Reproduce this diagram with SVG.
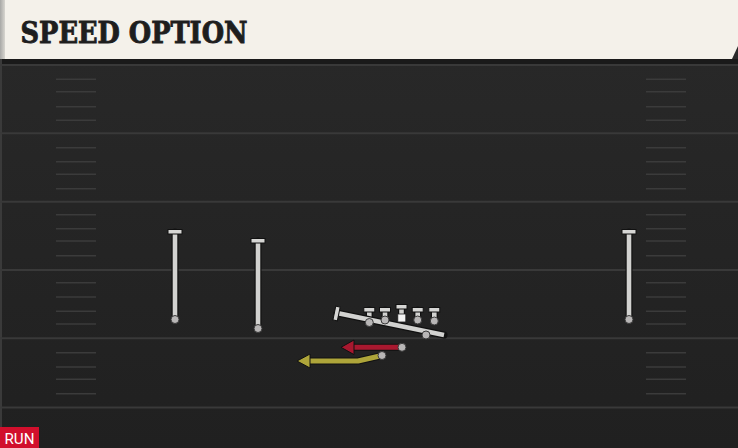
<svg xmlns="http://www.w3.org/2000/svg" width="738" height="448" viewBox="0 0 738 448">
<defs>
<linearGradient id="field" x1="0" y1="0" x2="0" y2="1">
<stop offset="0" stop-color="#282828"/>
<stop offset="1" stop-color="#202020"/>
</linearGradient>
<linearGradient id="edge" x1="0" y1="0" x2="1" y2="0">
<stop offset="0" stop-color="#a8a8a6"/>
<stop offset="1" stop-color="#d8d6d0"/>
</linearGradient>
</defs>
<style>
.yard{stroke:#393939;stroke-width:2}
.hash{stroke:#3b3b3b;stroke-width:1.6}
.out{stroke:#111;stroke-width:7;fill:none;stroke-linecap:round;stroke-linejoin:round}
.wr{stroke:#d2d2d0;stroke-width:4.6;fill:none;stroke-linecap:butt}
.bar{fill:#d6d6d4;stroke:#111;stroke-width:1}
.dot{fill:#b8b6b6;stroke:#3a3a3a;stroke-width:1}
.red{stroke:#a8182f;stroke-width:5;fill:none;stroke-linejoin:round}
.yel{stroke:#aea53a;stroke-width:5;fill:none;stroke-linejoin:round}
.title{font-family:"DejaVu Serif",serif;font-weight:bold;font-size:29px;fill:#1e1e1e;stroke:#1e1e1e;stroke-width:0.9}
.run{font-family:Roboto,"Liberation Sans",sans-serif;font-size:15px;fill:#ffffff}
</style>
<rect x="0" y="0" width="738" height="448" fill="#232323"/>
<rect x="0" y="59" width="738" height="389" fill="url(#field)"/>
<rect x="0" y="59" width="738" height="5" fill="#1a1a1a"/>
<rect x="0" y="59" width="2" height="389" fill="#3a3a3a"/>
<g id="header">
<rect x="0" y="0" width="738" height="59" fill="#f4f1ea"/>
<rect x="0" y="0" width="5" height="59" fill="url(#edge)"/>
<polygon points="738,46 738,59 732,59" fill="#2a2a2a"/>
<text class="title" x="20.5" y="42.5" textLength="227" lengthAdjust="spacingAndGlyphs">SPEED OPTION</text>
</g>
<g id="field-lines">
<line class="yard" x1="0" y1="65" x2="738" y2="65"/>
<line class="yard" x1="0" y1="133.3" x2="738" y2="133.3"/>
<line class="yard" x1="0" y1="201.7" x2="738" y2="201.7"/>
<line class="yard" x1="0" y1="270" x2="738" y2="270"/>
<line class="yard" x1="0" y1="338.3" x2="738" y2="338.3"/>
<line class="yard" x1="0" y1="407.5" x2="738" y2="407.5"/>
<g id="hashes-left">
<line class="hash" x1="56" y1="79.3" x2="96" y2="79.3"/>
<line class="hash" x1="56" y1="91.7" x2="96" y2="91.7"/>
<line class="hash" x1="56" y1="106.7" x2="96" y2="106.7"/>
<line class="hash" x1="56" y1="120.3" x2="96" y2="120.3"/>
<line class="hash" x1="56" y1="147.7" x2="96" y2="147.7"/>
<line class="hash" x1="56" y1="161.7" x2="96" y2="161.7"/>
<line class="hash" x1="56" y1="174.3" x2="96" y2="174.3"/>
<line class="hash" x1="56" y1="188.7" x2="96" y2="188.7"/>
<line class="hash" x1="56" y1="214.7" x2="96" y2="214.7"/>
<line class="hash" x1="56" y1="228.7" x2="96" y2="228.7"/>
<line class="hash" x1="56" y1="241" x2="96" y2="241"/>
<line class="hash" x1="56" y1="255.7" x2="96" y2="255.7"/>
<line class="hash" x1="56" y1="282.7" x2="96" y2="282.7"/>
<line class="hash" x1="56" y1="297" x2="96" y2="297"/>
<line class="hash" x1="56" y1="311.3" x2="96" y2="311.3"/>
<line class="hash" x1="56" y1="324" x2="96" y2="324"/>
<line class="hash" x1="56" y1="352.7" x2="96" y2="352.7"/>
<line class="hash" x1="56" y1="367" x2="96" y2="367"/>
<line class="hash" x1="56" y1="379.3" x2="96" y2="379.3"/>
<line class="hash" x1="56" y1="393.7" x2="96" y2="393.7"/>
</g>
<g id="hashes-right">
<line class="hash" x1="646" y1="79.3" x2="686" y2="79.3"/>
<line class="hash" x1="646" y1="91.7" x2="686" y2="91.7"/>
<line class="hash" x1="646" y1="106.7" x2="686" y2="106.7"/>
<line class="hash" x1="646" y1="120.3" x2="686" y2="120.3"/>
<line class="hash" x1="646" y1="147.7" x2="686" y2="147.7"/>
<line class="hash" x1="646" y1="161.7" x2="686" y2="161.7"/>
<line class="hash" x1="646" y1="174.3" x2="686" y2="174.3"/>
<line class="hash" x1="646" y1="188.7" x2="686" y2="188.7"/>
<line class="hash" x1="646" y1="214.7" x2="686" y2="214.7"/>
<line class="hash" x1="646" y1="228.7" x2="686" y2="228.7"/>
<line class="hash" x1="646" y1="241" x2="686" y2="241"/>
<line class="hash" x1="646" y1="255.7" x2="686" y2="255.7"/>
<line class="hash" x1="646" y1="282.7" x2="686" y2="282.7"/>
<line class="hash" x1="646" y1="297" x2="686" y2="297"/>
<line class="hash" x1="646" y1="311.3" x2="686" y2="311.3"/>
<line class="hash" x1="646" y1="324" x2="686" y2="324"/>
<line class="hash" x1="646" y1="352.7" x2="686" y2="352.7"/>
<line class="hash" x1="646" y1="367" x2="686" y2="367"/>
<line class="hash" x1="646" y1="379.3" x2="686" y2="379.3"/>
<line class="hash" x1="646" y1="393.7" x2="686" y2="393.7"/>
</g>
</g>
<g id="connectors">
<line class="out" x1="175" y1="232" x2="175" y2="319"/>
<line class="wr" x1="175" y1="232" x2="175" y2="319"/>
<rect class="bar" x="168" y="229.5" width="14" height="4.5"/>
<line class="out" x1="258" y1="241" x2="258" y2="328"/>
<line class="wr" x1="258" y1="241" x2="258" y2="328"/>
<rect class="bar" x="251" y="238.5" width="14" height="4.5"/>
<line class="out" x1="629" y1="232" x2="629" y2="319"/>
<line class="wr" x1="629" y1="232" x2="629" y2="319"/>
<rect class="bar" x="622" y="229.5" width="14" height="4.5"/>
<line class="out" x1="369.3" y1="310" x2="369.3" y2="322"/>
<line class="wr" x1="369.3" y1="310" x2="369.3" y2="322"/>
<rect class="bar" x="363.8" y="307.5" width="11" height="4.5"/>
<line class="out" x1="385" y1="310" x2="385" y2="319"/>
<line class="wr" x1="385" y1="310" x2="385" y2="319"/>
<rect class="bar" x="379.5" y="307.5" width="11" height="4.5"/>
<line class="out" x1="401.5" y1="308" x2="401.5" y2="315"/>
<line class="wr" x1="401.5" y1="308" x2="401.5" y2="315"/>
<rect class="bar" x="396" y="304.5" width="11" height="4.5"/>
<line class="out" x1="417.7" y1="310" x2="417.7" y2="319"/>
<line class="wr" x1="417.7" y1="310" x2="417.7" y2="319"/>
<rect class="bar" x="412.2" y="307.5" width="11" height="4.5"/>
<line class="out" x1="434.3" y1="310" x2="434.3" y2="320"/>
<line class="wr" x1="434.3" y1="310" x2="434.3" y2="320"/>
<rect class="bar" x="428.8" y="307.5" width="11" height="4.5"/>
<line class="out" x1="337" y1="313" x2="444" y2="335"/>
<line class="wr" x1="337" y1="313" x2="444" y2="335"/>
<rect class="bar" x="334.3" y="306.5" width="4.5" height="14" transform="rotate(11.6 336.5 313.5)"/>
<path class="out" d="M401,347.3 L352,347.3"/>
<path class="red" d="M401,347.3 L352,347.3"/>
<polygon points="341,347.3 354,340 354,354.6" fill="#a8182f" stroke="#111" stroke-width="1" stroke-linejoin="round"/>
<path class="out" d="M382,355.5 L358,361 L308,361"/>
<path class="yel" d="M382,355.5 L358,361 L308,361"/>
<polygon points="297,361 310,354 310,368" fill="#aea53a" stroke="#111" stroke-width="1" stroke-linejoin="round"/>
</g>
<g id="players">
<circle id="wr1" class="dot" cx="175" cy="319.5" r="4"/>
<circle id="wr2" class="dot" cx="258" cy="328.5" r="4"/>
<circle id="wr3" class="dot" cx="629" cy="319.5" r="4"/>
<circle id="lt" class="dot" cx="369.3" cy="322.5" r="4"/>
<circle id="lg" class="dot" cx="385" cy="320" r="4"/>
<rect id="c" x="397.8" y="314" width="8" height="8" fill="#f4f4f4" stroke="#222" stroke-width="0.8"/>
<circle id="rg" class="dot" cx="417.7" cy="320" r="4"/>
<circle id="rt" class="dot" cx="434.3" cy="321" r="4"/>
<circle id="te" class="dot" cx="426" cy="335" r="4"/>
<circle id="qb" class="dot" cx="402" cy="347.3" r="4"/>
<circle id="rb" class="dot" cx="382" cy="355.5" r="4"/>
</g>
<g id="badge">
<rect x="0" y="427" width="39" height="21" fill="#d10f2c"/>
<text class="run" x="4.5" y="443.5" textLength="30" lengthAdjust="spacingAndGlyphs">RUN</text>
</g>
</svg>
